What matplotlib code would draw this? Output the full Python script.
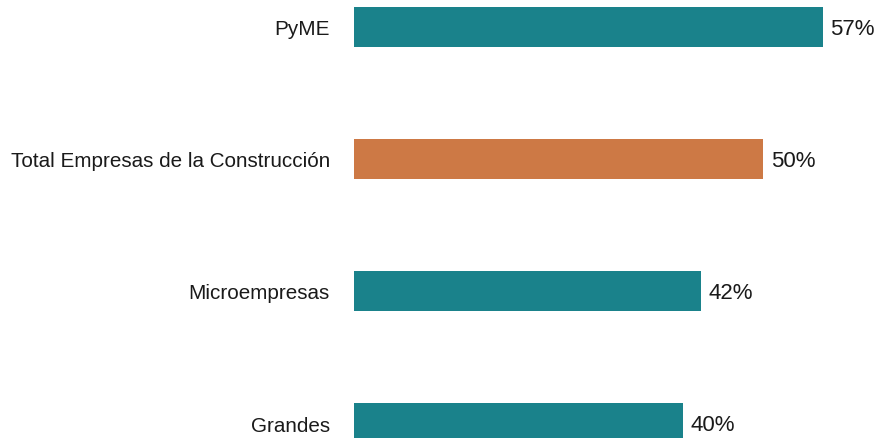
import matplotlib.pyplot as plt

# data, bottom to top
categories = ['Grandes', 'Microempresas', 'Total Empresas de la Construcción', 'PyME']
values = [40.0, 42.2, 49.8, 57.0]
labels = ['40%', '42%', '50%', '57%']
colors = ['#1A828B', '#1A828B', '#CD7945', '#1A828B']

plt.rcParams['font.family'] = ['Liberation Sans', 'DejaVu Sans']

fig = plt.figure(figsize=(8.81, 4.39), dpi=100)
ax = fig.add_axes([354 / 881, 0, 1 - 354 / 881, 1])

y = list(range(len(categories)))
ax.barh(y, values, height=0.303, color=colors)

for yi, v, lab in zip(y, values, labels):
    ax.text(v + 0.95, yi - 0.01, lab, va='center', ha='left', fontsize=16, color='#1a1a1a')

ax.set_xlim(0, 64.1)
ax.set_ylim(-0.1136, 3.212)
ax.set_yticks(y)
ax.set_yticklabels(categories, fontsize=14.9, color='#1a1a1a')
ax.tick_params(axis='y', length=0, pad=17.3)
ax.set_xticks([])
for s in ax.spines.values():
    s.set_visible(False)

fig.savefig('out.png', dpi=100)
